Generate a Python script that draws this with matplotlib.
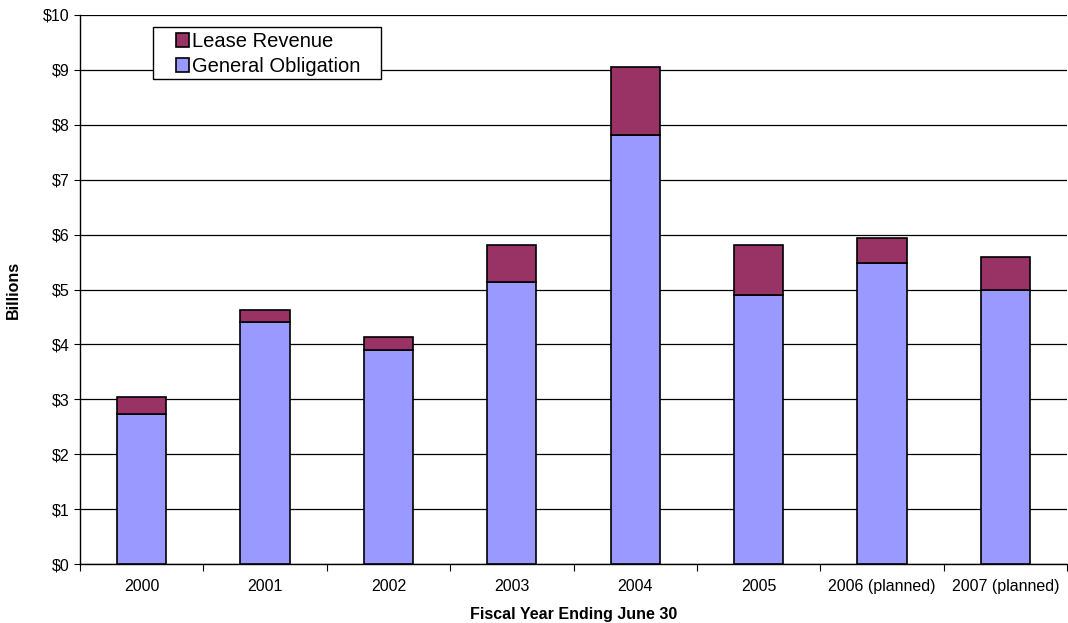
import numpy as np
import matplotlib.pyplot as plt
from matplotlib.patches import Rectangle

plt.rcParams['font.family'] = ['Liberation Sans', 'DejaVu Sans']

years = ['2000', '2001', '2002', '2003', '2004', '2005', '2006 (planned)', '2007 (planned)']
general_obligation = [2.74, 4.41, 3.90, 5.14, 7.81, 4.90, 5.49, 4.99]
lease_revenue = [0.30, 0.22, 0.23, 0.67, 1.24, 0.91, 0.44, 0.61]

fig = plt.figure(figsize=(10.68, 6.23), dpi=100)
ax = fig.add_axes([80 / 1068, 59 / 623, 987 / 1068, 549 / 623])

x = np.arange(len(years))
go = ax.bar(x, general_obligation, width=0.4, color='#9999ff', edgecolor='black', linewidth=1.2, zorder=3)
lr = ax.bar(x, lease_revenue, width=0.4, bottom=general_obligation, color='#993366',
            edgecolor='black', linewidth=1.2, zorder=3)

ax.set_xlim(-0.5, len(years) - 0.5)
ax.set_ylim(0, 10)
ax.set_yticks(range(0, 11))
ax.set_yticklabels(['$%d' % v for v in range(0, 11)], fontsize=11.5)
ax.yaxis.grid(True, color='black', linewidth=0.9, zorder=0)

# category labels centred, tick marks between categories
ax.set_xticks(x)
ax.set_xticklabels(years, fontsize=11.5)
ax.tick_params(axis='x', length=0, pad=11)
ax.set_xticks(np.arange(len(years) + 1) - 0.5, minor=True)
ax.tick_params(axis='x', which='minor', length=5, width=0.8)
ax.tick_params(axis='y', length=4, width=0.8)

for s in ['top', 'right']:
    ax.spines[s].set_visible(False)
ax.spines['left'].set_linewidth(1.0)
ax.spines['bottom'].set_linewidth(1.0)

ax.set_xlabel('Fiscal Year Ending June 30', fontsize=11.5, fontweight='bold', labelpad=9)
ax.set_ylabel('Billions', fontsize=11.5, fontweight='bold', labelpad=16)

# legend box drawn separately (wider side padding than matplotlib allows)
box = Rectangle((153 / 1068, 1 - 79 / 623), 228 / 1068, 52 / 623, transform=fig.transFigure,
                facecolor='white', edgecolor='black', linewidth=1.0, zorder=5)
fig.patches.append(box)
leg = fig.legend([lr, go], ['Lease Revenue', 'General Obligation'], loc='upper left',
                 bbox_to_anchor=(176 / 1068, 1 - 32 / 623), fontsize=14.5, frameon=False,
                 borderpad=0, handlelength=0.65, handleheight=0.65, handletextpad=0.15,
                 labelspacing=0.3, borderaxespad=0)
leg.set_zorder(6)

fig.savefig('out.png', dpi=100)
